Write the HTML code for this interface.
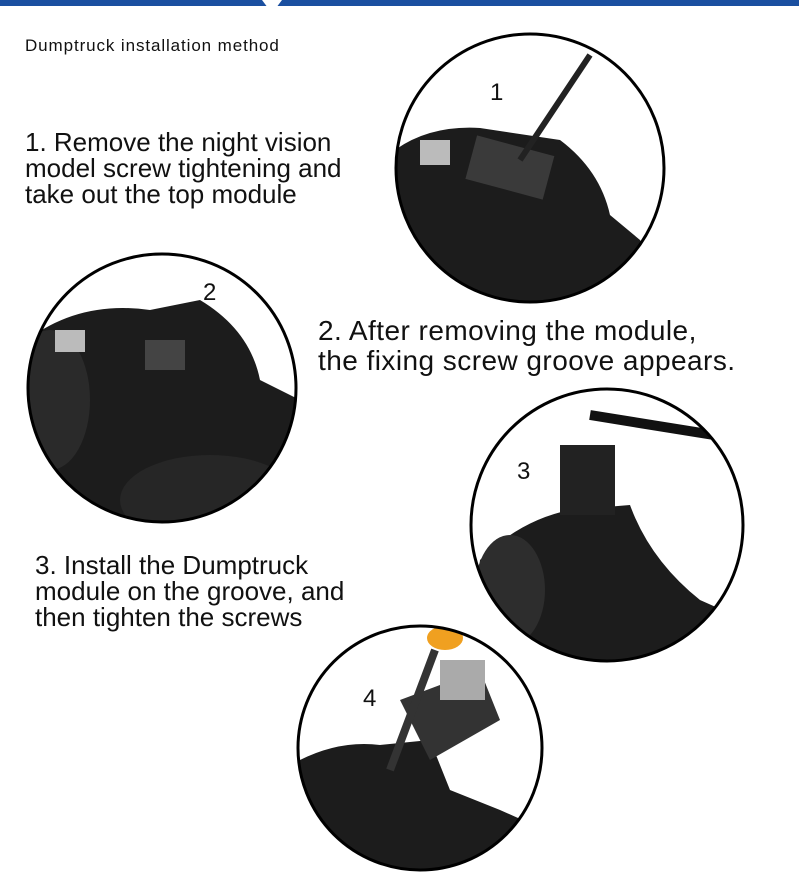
<!DOCTYPE html>
<html><head><meta charset="utf-8"><style>
html,body{margin:0;padding:0;background:#fff;}
body{width:799px;height:885px;position:relative;overflow:hidden;font-family:"Liberation Sans",sans-serif;color:#111;}
.t{position:absolute;font-size:26px;line-height:26px;white-space:nowrap;}
svg{position:absolute;left:0;top:0;}
</style></head><body>
<svg width="799" height="885" viewBox="0 0 799 885">
<defs>
<clipPath id="c1"><circle cx="530" cy="168" r="134"/></clipPath>
<clipPath id="c2"><circle cx="162" cy="388" r="134"/></clipPath>
<clipPath id="c3"><circle cx="607" cy="525" r="136"/></clipPath>
<clipPath id="c4"><circle cx="420" cy="748" r="122"/></clipPath>
</defs>
<rect x="0" y="0" width="799" height="6" fill="#1a4fa0"/>
<polygon points="262,0 282,0 276,8 268,8" fill="#fff"/>
<g clip-path="url(#c1)">
<path d="M395,150 Q430,125 480,128 L560,140 Q600,170 610,215 L640,240 Q660,270 640,310 L395,310 Z" fill="#1c1c1c"/>
<rect x="470" y="145" width="80" height="45" fill="#3a3a3a" transform="rotate(15 510 167)"/>
<line x1="520" y1="160" x2="590" y2="55" stroke="#222" stroke-width="6"/>
<rect x="420" y="140" width="30" height="25" fill="#bbb"/>
</g>
<circle cx="530" cy="168" r="134" fill="none" stroke="#000" stroke-width="3"/>
<g clip-path="url(#c2)">
<path d="M27,340 Q80,300 150,310 L200,300 Q250,330 260,380 L300,400 L300,530 L27,530 Z" fill="#1c1c1c"/>
<ellipse cx="50" cy="400" rx="40" ry="70" fill="#2a2a2a"/>
<ellipse cx="210" cy="500" rx="90" ry="45" fill="#262626"/>
<rect x="145" y="340" width="40" height="30" fill="#444"/>
<rect x="55" y="330" width="30" height="22" fill="#bbb"/>
</g>
<circle cx="162" cy="388" r="134" fill="none" stroke="#000" stroke-width="3"/>
<g clip-path="url(#c3)">
<path d="M480,560 Q520,520 570,510 L630,505 Q650,560 700,600 L745,620 L745,665 L470,665 Z" fill="#1c1c1c"/>
<rect x="560" y="445" width="55" height="70" fill="#222"/>
<line x1="590" y1="415" x2="745" y2="440" stroke="#111" stroke-width="10"/>
<ellipse cx="510" cy="590" rx="35" ry="55" fill="#2d2d2d"/>
</g>
<circle cx="607" cy="525" r="136" fill="none" stroke="#000" stroke-width="3"/>
<g clip-path="url(#c4)">
<path d="M300,760 Q340,740 380,745 L430,740 L450,790 L500,810 L545,830 L545,875 L300,875 Z" fill="#1c1c1c"/>
<path d="M400,700 L480,670 L500,720 L430,760 Z" fill="#333"/>
<rect x="440" y="660" width="45" height="40" fill="#aaa"/>
<line x1="390" y1="770" x2="435" y2="650" stroke="#333" stroke-width="8"/>
<ellipse cx="445" cy="638" rx="18" ry="12" fill="#f0a020"/>
</g>
<circle cx="420" cy="748" r="122" fill="none" stroke="#000" stroke-width="3"/>
<text x="490" y="100" font-size="24" font-family="Liberation Sans" fill="#111">1</text>
<text x="203" y="300" font-size="24" font-family="Liberation Sans" fill="#111">2</text>
<text x="517" y="479" font-size="24" font-family="Liberation Sans" fill="#111">3</text>
<text x="363" y="706" font-size="24" font-family="Liberation Sans" fill="#111">4</text>
</svg>
<div class="t" style="left:25px;top:37px;font-size:17px;line-height:18px;letter-spacing:0.9px;">Dumptruck installation method</div>
<div class="t" style="left:25px;top:129px;">1. Remove the night vision<br>model screw tightening and<br>take out the top module</div>
<div class="t" style="left:318px;top:316px;font-size:28px;line-height:30px;letter-spacing:0.45px;">2. After removing the module,<br>the fixing screw groove appears.</div>
<div class="t" style="left:35px;top:552px;">3. Install the Dumptruck<br>module on the groove, and<br>then tighten the screws</div>
</body></html>
